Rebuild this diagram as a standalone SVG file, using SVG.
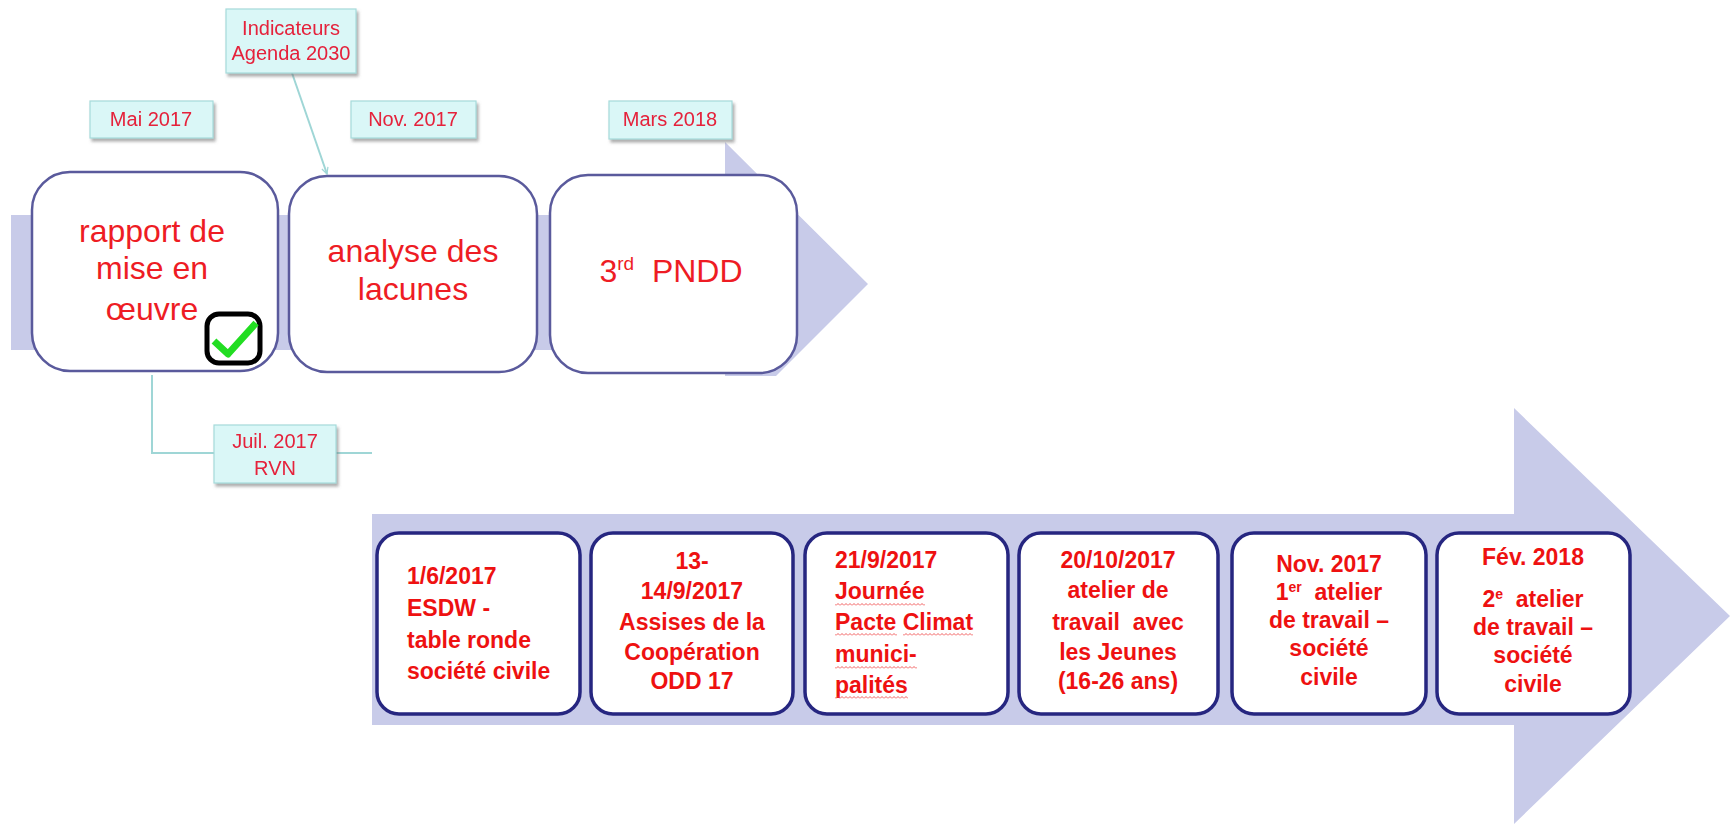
<svg xmlns="http://www.w3.org/2000/svg" width="1730" height="827" viewBox="0 0 1730 827">
<style>
.arrow{fill:#c8cbe9}
.big{fill:#fff;stroke:#5a5a9c;stroke-width:2.5}
.small{fill:#fff;stroke:#262680;stroke-width:3.5}
.lbl{fill:#daf7f7;stroke:#a6dada;stroke-width:1.2}
.ltxt{font-family:"Liberation Sans",Arial,sans-serif;font-size:20px;fill:#e5203a;text-anchor:middle}
.ttxt{font-family:"Liberation Sans",Arial,sans-serif;font-size:32px;fill:#ee1c24;text-anchor:middle}
.btxt{font-family:"Liberation Sans",Arial,sans-serif;font-size:23px;font-weight:bold;fill:#ee1111}
.mid{text-anchor:middle}
.conn{fill:none;stroke:#9fd6d6;stroke-width:2}
</style>
<defs>
<filter id="sh" x="-20%" y="-20%" width="140%" height="150%">
<feDropShadow dx="2" dy="3" stdDeviation="1.5" flood-color="#777" flood-opacity="0.6"/>
</filter>
<marker id="arr" viewBox="0 0 10 10" refX="9" refY="5" markerWidth="8" markerHeight="8" orient="auto" markerUnits="userSpaceOnUse">
<path d="M1 1 L9 5 L1 9" fill="none" stroke="#9fd6d6" stroke-width="1.5"/>
</marker>
<pattern id="wave" width="4" height="3" patternUnits="userSpaceOnUse">
<path d="M0 2.5 L2 0.5 L4 2.5" fill="none" stroke="#e33" stroke-width="0.8"/>
</pattern>
</defs>
<rect width="1730" height="827" fill="#fff"/>

<!-- background arrows -->
<g id="arrow-top">
<polygon class="arrow" points="11,215 725,215 725,142 868,284 776,376 725,376 725,350 11,350"/>
</g>
<g id="arrow-bottom">
<polygon class="arrow" points="372,514 1514,514 1514,408 1730,616 1514,824 1514,725 372,725"/>
</g>

<!-- connectors -->
<g id="connectors">
<line class="conn" x1="292" y1="73" x2="327" y2="174" stroke-width="1.5" marker-end="url(#arr)"/>
<polyline class="conn" points="152,375 152,453 372,453"/>
</g>

<!-- top nodes -->
<g id="node-rapport">
<rect class="big" x="32" y="172" width="246" height="199" rx="38"/>
<text class="ttxt" x="152" y="242">rapport de</text>
<text class="ttxt" x="152" y="279">mise en</text>
<text class="ttxt" x="152" y="320">œuvre</text>
<rect x="207" y="314" width="53" height="49" rx="12" fill="#fff" stroke="#000" stroke-width="5"/>
<path d="M214 341 L228 354 L256 323" fill="none" stroke="#22dd22" stroke-width="7" stroke-linejoin="round"/>
</g>
<g id="node-analyse">
<rect class="big" x="289" y="176" width="248" height="196" rx="38"/>
<text class="ttxt" x="413" y="262">analyse des</text>
<text class="ttxt" x="413" y="300">lacunes</text>
</g>
<g id="node-pndd">
<rect class="big" x="550" y="175" width="247" height="198" rx="38"/>
<text class="ttxt" x="671" y="282" font-size="30">3<tspan font-size="19" dy="-12">rd</tspan><tspan dy="12">&#160;&#160;PNDD</tspan></text>
</g>

<!-- labels -->
<g id="label-indicateurs" filter="url(#sh)">
<rect class="lbl" x="226" y="9" width="130" height="64"/>
<text class="ltxt" x="291" y="35" font-size="18">Indicateurs</text>
<text class="ltxt" x="291" y="60" font-size="18">Agenda 2030</text>
</g>
<g id="label-mai" filter="url(#sh)">
<rect class="lbl" x="90" y="101" width="123" height="37"/>
<text class="ltxt" x="151" y="126">Mai 2017</text>
</g>
<g id="label-nov" filter="url(#sh)">
<rect class="lbl" x="351" y="101" width="125" height="37"/>
<text class="ltxt" x="413" y="126">Nov. 2017</text>
</g>
<g id="label-mars" filter="url(#sh)">
<rect class="lbl" x="609" y="101" width="123" height="38"/>
<text class="ltxt" x="670" y="126">Mars 2018</text>
</g>
<g id="label-juil" filter="url(#sh)">
<rect class="lbl" x="214" y="425" width="122" height="58"/>
<text class="ltxt" x="275" y="448">Juil. 2017</text>
<text class="ltxt" x="275" y="475">RVN</text>
</g>

<!-- bottom nodes -->
<g id="node-esdw">
<rect class="small" x="377" y="533" width="203" height="181" rx="22"/>
<text class="btxt" x="407" y="584">1/6/2017</text>
<text class="btxt" x="407" y="616">ESDW -</text>
<text class="btxt" x="407" y="648">table ronde</text>
<text class="btxt" x="407" y="679">société civile</text>
</g>
<g id="node-assises">
<rect class="small" x="591" y="533" width="202" height="181" rx="22"/>
<text class="btxt mid" x="692" y="569">13-</text>
<text class="btxt mid" x="692" y="599">14/9/2017</text>
<text class="btxt mid" x="692" y="630">Assises de la</text>
<text class="btxt mid" x="692" y="660">Coopération</text>
<text class="btxt mid" x="692" y="689">ODD 17</text>
</g>
<g id="node-pacte">
<rect class="small" x="805" y="533" width="203" height="181" rx="22"/>
<text class="btxt" x="835" y="568">21/9/2017</text>
<text class="btxt" x="835" y="599">Journée</text>
<text class="btxt" x="835" y="630">Pacte Climat</text>
<text class="btxt" x="835" y="662">munici-</text>
<text class="btxt" x="835" y="693">palités</text>
<rect x="835" y="603" width="90" height="3" fill="url(#wave)"/>
<rect x="835" y="633" width="62" height="3" fill="url(#wave)"/>
<rect x="903" y="633" width="70" height="3" fill="url(#wave)"/>
<rect x="835" y="666" width="82" height="3" fill="url(#wave)"/>
<rect x="835" y="696" width="73" height="3" fill="url(#wave)"/>
</g>
<g id="node-jeunes">
<rect class="small" x="1019" y="533" width="199" height="181" rx="22"/>
<text class="btxt mid" x="1118" y="568">20/10/2017</text>
<text class="btxt mid" x="1118" y="598">atelier de</text>
<text class="btxt mid" x="1118" y="630">travail&#160; avec</text>
<text class="btxt mid" x="1118" y="660">les Jeunes</text>
<text class="btxt mid" x="1118" y="689">(16-26 ans)</text>
</g>
<g id="node-atelier1">
<rect class="small" x="1232" y="533" width="194" height="181" rx="22"/>
<text class="btxt mid" x="1329" y="572">Nov. 2017</text>
<text class="btxt mid" x="1329" y="600">1<tspan font-size="14" dy="-8">er</tspan><tspan dy="8">&#160; atelier</tspan></text>
<text class="btxt mid" x="1329" y="628">de travail –</text>
<text class="btxt mid" x="1329" y="656">société</text>
<text class="btxt mid" x="1329" y="685">civile</text>
</g>
<g id="node-atelier2">
<rect class="small" x="1437" y="533" width="193" height="181" rx="22"/>
<text class="btxt mid" x="1533" y="565">Fév. 2018</text>
<text class="btxt mid" x="1533" y="607">2<tspan font-size="14" dy="-8">e</tspan><tspan dy="8">&#160; atelier</tspan></text>
<text class="btxt mid" x="1533" y="635">de travail –</text>
<text class="btxt mid" x="1533" y="663">société</text>
<text class="btxt mid" x="1533" y="692">civile</text>
</g>
</svg>
